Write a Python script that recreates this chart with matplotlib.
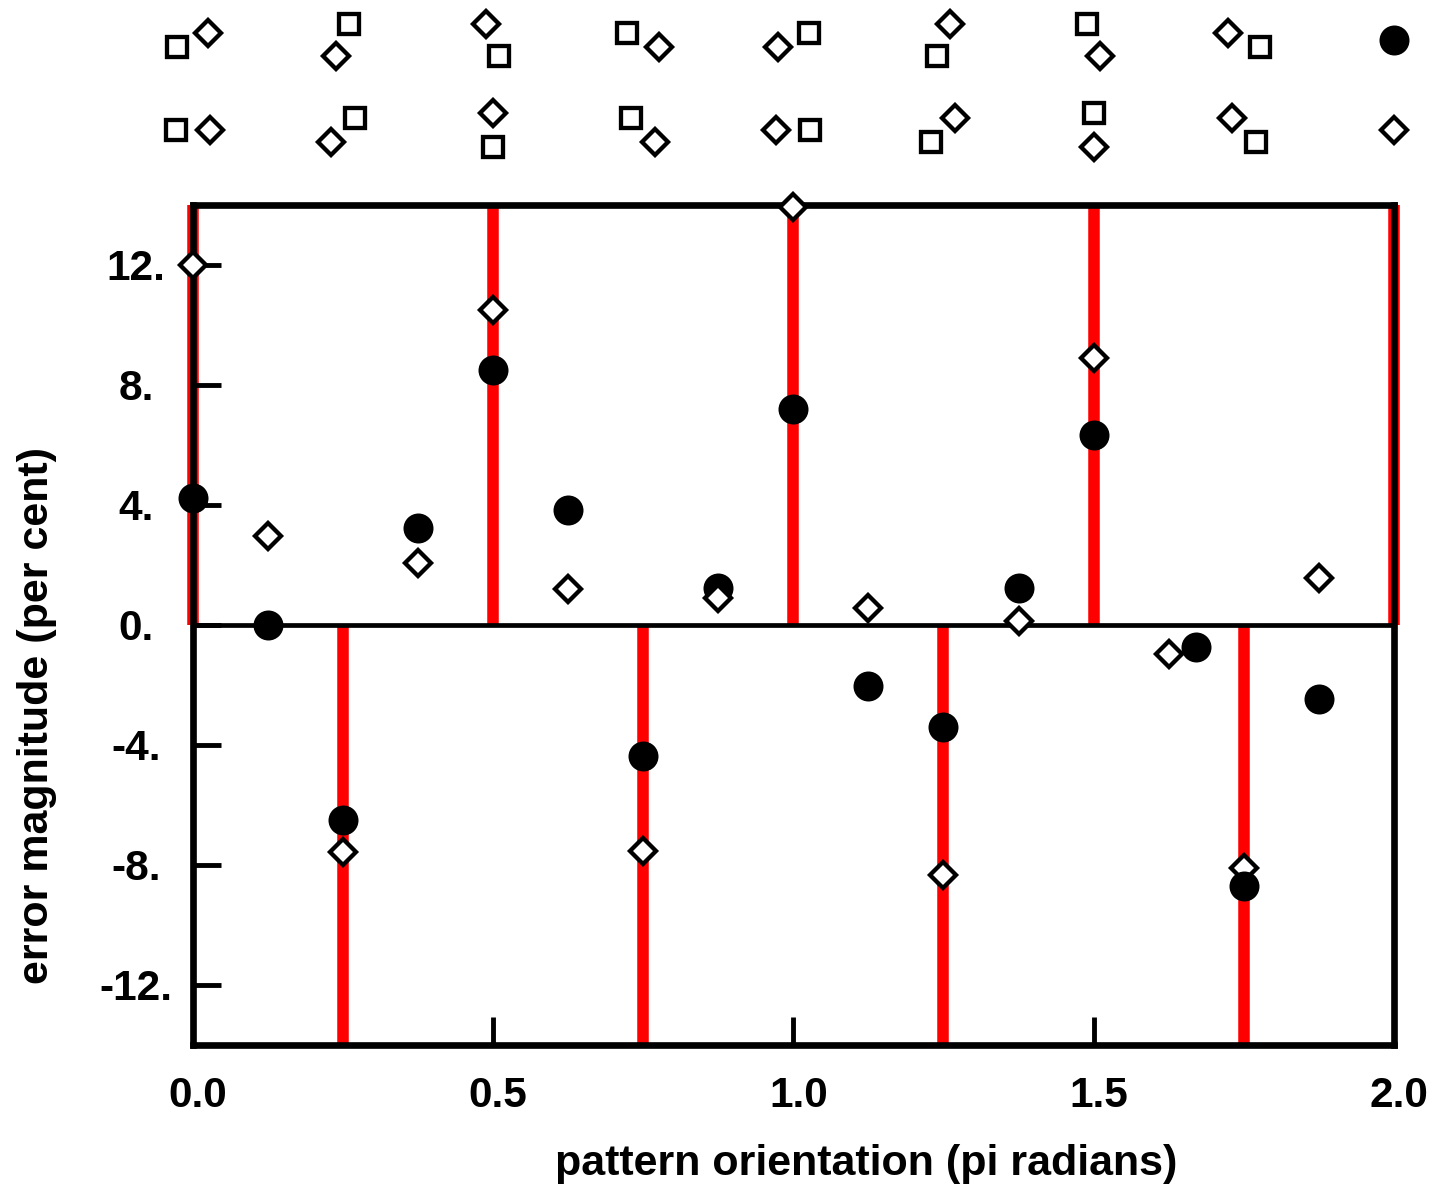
import numpy as np
import matplotlib
matplotlib.use("Agg")
import matplotlib.pyplot as plt
from matplotlib.transforms import ScaledTranslation

plt.rcParams['font.family'] = ['Liberation Sans', 'DejaVu Sans']
plt.rcParams['font.weight'] = 'bold'

# measured error for the two configurations
orient_circle = [0.0, 0.125, 0.25, 0.375, 0.5, 0.625, 0.75, 0.875,
                 1.0, 1.125, 1.25, 1.375, 1.5, 1.67, 1.75, 1.875]
err_circle = [4.23, 0.0, -6.5, 3.23, 8.5, 3.83, -4.37, 1.23,
              7.2, -2.03, -3.4, 1.23, 6.33, -0.72, -8.7, -2.47]

orient_diamond = [0.0, 0.125, 0.25, 0.375, 0.5, 0.625, 0.75, 0.875,
                  1.0, 1.125, 1.25, 1.375, 1.5, 1.625, 1.75, 1.875]
err_diamond = [12.0, 2.97, -7.58, 2.07, 10.5, 1.2, -7.53, 0.9,
               13.93, 0.57, -8.33, 0.13, 8.9, -0.97, -8.11, 1.57]

# reference orientations (upper and lower bands)
red_up = [0.0, 0.5, 1.0, 1.5, 2.0]
red_down = [0.25, 0.75, 1.25, 1.75]

# pattern sketches above the plot: square/diamond pair orientation (degrees)
glyph_x = [0.0, 0.25, 0.5, 0.75, 1.0, 1.25, 1.5, 1.75]
row1_angles = [22.5, 247.5, 112.5, 337.5, 202.5, 67.5, 292.5, 157.5]
row2_angles = [0.0, 225.0, 90.0, 315.0, 180.0, 45.0, 270.0, 135.0]

yticks = [-12, -8, -4, 0, 4, 8, 12]
ytick_labels = ['-12.', '-8.', '-4.', '0.', '4.', '8.', '12.']
xticks = [0.0, 0.5, 1.0, 1.5, 2.0]
xtick_labels = ['0.0', '0.5', '1.0', '1.5', '2.0']

W, H = 1436, 1188
fig = plt.figure(figsize=(W / 100, H / 100), dpi=100)
ax = fig.add_axes([192.5 / W, 143 / H, 1201.5 / W, 840 / H])
ax.set_xlim(0, 2)
ax.set_ylim(-14, 14)

RED = '#ff0000'
for x in red_up:
    ax.plot([x, x], [0, 14], color=RED, lw=8.3, solid_capstyle='butt',
            zorder=1.5, clip_on=False)
for x in red_down:
    ax.plot([x, x], [0, -14], color=RED, lw=8.3, solid_capstyle='butt',
            zorder=1.5, clip_on=False)

ax.axhline(0, color='black', lw=3.4, zorder=2.6)

for s in ax.spines.values():
    s.set_linewidth(4.8)
    s.set_zorder(2.5)

MS_SQ = 13.7
MEW = 3.1
MS_CIRC = 21.6

oc = np.array(orient_circle)
ec = np.array(err_circle)
front = oc > 1.0
ax.plot(oc[~front], ec[~front], 'o', color='black', ms=MS_CIRC, mew=0,
        zorder=4, clip_on=False)
ax.plot(orient_diamond, err_diamond, 'D', ms=MS_SQ, mfc='white',
        mec='black', mew=MEW, zorder=4.5, clip_on=False)
ax.plot(oc[front], ec[front], 'o', color='black', ms=MS_CIRC, mew=0,
        zorder=5, clip_on=False)

ax.set_yticks(yticks)
ax.set_yticklabels(ytick_labels, ha='center')
ax.set_xticks(xticks)
ax.set_xticklabels(xtick_labels)
ax.tick_params(axis='both', direction='in', length=20.5, width=3.5,
               labelsize=30.5, top=False, right=False, color='black')
ax.tick_params(axis='y', pad=40.7)
ax.tick_params(axis='x', pad=22)
for lbl in ax.get_xticklabels():
    lbl.set_transform(lbl.get_transform()
                      + ScaledTranslation(0.05, 0, fig.dpi_scale_trans))

# pattern sketches
base = ax.get_xaxis_transform()
row_y = [(1045 - 40) / 840, (1045 - 130) / 840]
r_in = 0.17
for yy, angles in zip(row_y, [row1_angles, row2_angles]):
    for gx, a in zip(glyph_x, angles):
        dx = r_in * np.cos(np.radians(a))
        dy = r_in * np.sin(np.radians(a))
        t_d = base + ScaledTranslation(dx, dy, fig.dpi_scale_trans)
        t_s = base + ScaledTranslation(-dx, -dy, fig.dpi_scale_trans)
        ax.plot([gx], [yy], 'D', ms=MS_SQ, mfc='white', mec='black',
                mew=MEW, transform=t_d, clip_on=False)
        ax.plot([gx], [yy], 's', ms=MS_SQ, mfc='white', mec='black',
                mew=MEW, transform=t_s, clip_on=False)

ax.plot([2.0], [row_y[0]], 'o', color='black', ms=MS_CIRC, mew=0,
        transform=base, clip_on=False)
ax.plot([2.0], [row_y[1]], 'D', ms=MS_SQ, mfc='white', mec='black',
        mew=MEW, transform=base, clip_on=False)

fig.text(866 / W, (H - 1164) / H, 'pattern orientation (pi radians)',
         ha='center', va='center', fontsize=31, fontweight='bold')
fig.text(37.5 / W, (H - 715) / H, 'error magnitude (per cent)',
         rotation=90, ha='center', va='center', fontsize=31,
         fontweight='bold')

fig.savefig('out.png', dpi=100)
